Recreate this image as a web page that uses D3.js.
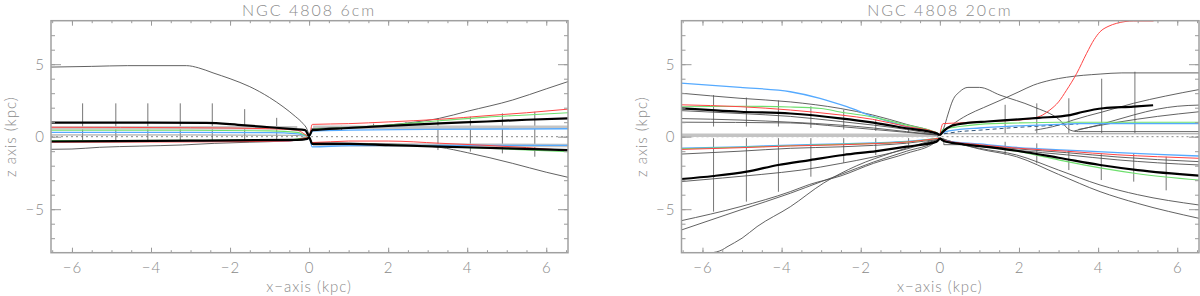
<!DOCTYPE html>
<html>
<head>
<meta charset="utf-8">
<script src="https://cdn.jsdelivr.net/npm/d3@7"></script>
<style>
  body { margin: 0; background: #fff; }
  text { font-family: Lato, "Open Sans", sans-serif; font-weight: 300; fill: #8a8a8a; }
</style>
</head>
<body>
<div id="chart"></div>
<script>
// axis ranges and ticks
const xDomain = [-6.53, 6.55];
const zDomain = [-8, 8];
const xMajor = [-6, -4, -2, 0, 2, 4, 6];
const xMinor = d3.range(-6.5, 6.51, 0.5);
const zMajor = [-5, 0, 5];
const zMinor = d3.range(-7, 7.1, 1);

// ---- NGC 4808 6cm : [x, z] in kpc ----
const hump6 = [[-6.55,4.8],[-5.5,4.85],[-4.6,4.9],[-3.1,4.9],[-2.8,4.75],[-2.43,4.4],[-2.0,4.0],[-1.5,3.45],[-1.0,2.7],[-0.66,2.07],[-0.35,1.4],[-0.16,0.92],[-0.05,0.5],[0,0.1]];
const grayUp6 = [[0.05,0.55],[1,0.65],[2,0.8],[2.5,0.95],[3.3,1.27],[4,1.75],[5.15,2.53],[6,3.3],[6.55,3.8]];
const grayDn6R = [[0.05,-0.4],[1,-0.45],[2,-0.5],[3.3,-0.73],[4,-1.1],[5.15,-1.84],[6,-2.45],[6.55,-2.8]];
const grayDn6L = [[-6.55,-0.87],[-6,-0.85],[-5.3,-0.73],[-4.3,-0.65],[-3.2,-0.57],[-2.4,-0.46],[-1.5,-0.38],[-0.6,-0.3],[-0.1,-0.2],[0,0]];
const grayMid6 = [[-6.55,0.12],[-3,0.12],[-0.5,0.1],[0,0.02]];
const blackUp6 = [[-6.55,0.97],[-4,0.97],[-2.6,0.95],[-1.8,0.82],[-1.0,0.65],[-0.4,0.52],[-0.1,0.45],[0,0.05],[0.08,0.45],[1,0.6],[2,0.75],[3.3,0.92],[4.5,1.05],[5.5,1.17],[6.55,1.27]];
const blackDn6 = [[-6.55,-0.33],[-3,-0.27],[-0.3,-0.22],[-0.05,-0.15],[0,-0.05],[0.08,-0.5],[1,-0.5],[2,-0.58],[3.3,-0.69],[5,-0.8],[6.55,-0.93]];
const redUp6 = [[-6.55,0.65],[-3,0.62],[-1,0.55],[-0.3,0.45],[0,0.05],[0.08,0.85],[1,0.9],[2,1.02],[3.3,1.2],[4.5,1.45],[5.5,1.65],[6.55,1.9]];
const greenUp6 = [[-6.55,0.45],[-3,0.44],[-1,0.4],[-0.3,0.3],[0,0.05],[0.08,0.5],[1,0.62],[2,0.8],[3.3,1.1],[4.5,1.35],[5.5,1.5],[6.55,1.65]];
const blueUp6 = [[-6.55,0.3],[-3,0.3],[-1,0.28],[-0.3,0.2],[0,0.05],[0.1,0.4],[1,0.45],[3,0.5],[6.55,0.55]];
const greenDn6 = [[-6.55,-0.27],[-3,-0.25],[-0.5,-0.22],[0,-0.05],[0.08,-0.45],[1,-0.5],[2,-0.55],[3.3,-0.68],[5,-0.85],[6.55,-1.03]];
const redDn6 = [[-6.55,-0.38],[-3,-0.36],[-0.5,-0.3],[0,-0.05],[0.08,-0.4],[1,-0.3],[2,-0.3],[3.3,-0.45],[4.5,-0.6],[5.5,-0.75],[6.55,-0.95]];
const blueDn6 = [[-6.55,-0.3],[-3,-0.3],[-0.5,-0.28],[0,-0.05],[0.08,-0.7],[1,-0.62],[3,-0.6],[6.55,-0.6]];
const bandUp6L = [[-6.55,0.6],[-0.3,0.62]];
const bandUp6R = [[0.1,0.65],[6.55,0.65]];
const bandDn6R = [[0.1,-0.55],[6.55,-0.6]];
const bars6 = [[-5.73,-0.35,2.3],[-4.89,-0.35,2.3],[-4.08,-0.35,2.3],[-3.26,-0.35,2.3],[-2.45,-0.35,2.3],[-1.63,-0.35,1.9],[-0.82,-0.3,1.3],
               [0.82,0.45,0.75],[1.63,0.5,0.9],[2.45,0.55,1.0],[3.26,-0.92,1.27],[4.08,-1.03,1.38],[4.89,-1.15,1.61],[5.71,-1.38,1.72]];

// ---- NGC 4808 20cm : [x, z] in kpc ----
const blueUp20 = [[-6.55,3.7],[-5.05,3.4],[-3.78,3.1],[-3.03,2.65],[-2.35,2.07],[-1.68,1.38],[-0.84,0.69],[-0.08,0.23],[0,0.1]];
const darkUp20 = [[-6.55,3.0],[-5.05,2.65],[-3.78,2.4],[-2.52,1.95],[-1.7,1.5],[-0.84,0.85],[-0.1,0.25],[0,0.1]];
const redUp20 = [[-6.55,2.2],[-5.05,2.07],[-3.78,1.84],[-2.52,1.5],[-1.7,1.2],[-0.84,0.7],[-0.1,0.3],[0,0.1]];
const greenUp20 = [[-6.55,2.07],[-5.05,2.1],[-3.78,2.05],[-3,1.95],[-2.52,1.7],[-1.68,1.35],[-0.84,0.8],[-0.1,0.3],[0,0.1]];
const blackUp20 = [[-6.55,1.95],[-5.05,1.72],[-3.78,1.6],[-2.52,1.27],[-1.68,0.97],[-0.84,0.58],[-0.08,0.23],[0,0.1]];
const grayUp20a = [[-6.55,1.8],[-5.05,1.6],[-3.78,1.4],[-2.52,1.05],[-1.68,0.8],[-0.84,0.5],[0,0.1]];
const grayUp20b = [[-6.55,1.25],[-5.05,1.15],[-3.78,1.0],[-2.52,0.8],[-1.68,0.6],[-0.84,0.35],[0,0.1]];
const grayUp20c = [[-6.55,1.0],[-3.78,0.95],[-2.52,0.7],[-1.68,0.5],[-0.84,0.3],[0,0.1]];
const band20 = [[-6.55,0.1],[-0.1,0.1]];
const blueDn20 = [[-6.55,-0.8],[-5.05,-0.7],[-3.78,-0.58],[-2.52,-0.5],[-1.68,-0.43],[-0.84,-0.33],[0,-0.1]];
const greenDn20 = [[-6.55,-0.83],[-5.05,-0.73],[-3.78,-0.62],[-2.52,-0.53],[-1.68,-0.46],[-0.84,-0.36],[0,-0.1]];
const redDn20 = [[-6.55,-0.88],[-5.05,-0.76],[-3.78,-0.64],[-2.52,-0.56],[-1.68,-0.48],[-0.84,-0.37],[0,-0.1]];
const grayDn20a = [[-6.55,-1.2],[-5.05,-1.0],[-3.78,-0.8],[-2.52,-0.7],[-1.68,-0.6],[-0.84,-0.45],[0,-0.15]];
const blackDn20 = [[-6.55,-2.92],[-5.72,-2.71],[-4.88,-2.41],[-4.09,-1.95],[-3.28,-1.61],[-2.44,-1.26],[-1.6,-0.99],[-0.84,-0.69],[-0.08,-0.34],[0,-0.1]];
const grayDn20b = [[-6.55,-3.1],[-5.5,-2.85],[-4.5,-2.6],[-3.5,-2.3],[-2.52,-1.85],[-1.68,-1.4],[-0.84,-0.85],[0,-0.15]];
const steep20a = [[-6.55,-5.8],[-5.05,-4.83],[-3.78,-3.79],[-3.3,-3.3],[-2.5,-2.7],[-1.68,-1.84],[-0.84,-1.15],[-0.1,-0.35],[0,-0.1]];
const steep20b = [[-6.55,-6.45],[-5.05,-5.06],[-3.78,-3.9],[-3.0,-3.1],[-2.5,-2.6],[-1.68,-1.75],[-0.84,-1.0],[-0.1,-0.3],[0,-0.1]];
const steep20c = [[-6.55,-8],[-5.8,-8],[-5.5,-7.8],[-5.38,-7.6],[-5,-7.0],[-4.62,-6.2],[-3.78,-4.83],[-2.94,-3.2],[-2.1,-2.0],[-1.2,-1.1],[-0.5,-0.5],[0,-0.1]];
const redR20 = [[0,0.1],[0.08,0.9],[0.5,0.95],[1.2,1.05],[2.0,1.15],[2.36,1.27],[2.6,1.5],[2.78,1.84],[3.0,2.4],[3.2,3.2],[3.46,4.37],[3.71,5.75],[3.9,6.7],[4.05,7.24],[4.25,7.6],[4.47,7.82],[4.89,7.98],[5.4,7.98]];
const blackR20 = [[0,0.1],[0.1,0.4],[0.3,0.75],[0.7,0.95],[1.2,1.05],[2.0,1.2],[2.5,1.3],[3.29,1.49],[3.6,1.7],[4.13,1.96],[4.89,2.07],[5.39,2.17]];
const humpR20 = [[0,0.1],[0.1,0.6],[0.2,1.5],[0.33,2.53],[0.5,3.1],[0.71,3.4],[1.0,3.4],[1.52,2.87],[2.36,2.07],[3.03,1.15],[3.29,0.46],[3.5,0.35],[6.55,0.35]];
const riseR20 = [[0.05,0.2],[0.3,0.8],[0.7,1.5],[1.1,2.0],[1.52,2.5],[2.0,3.1],[2.36,3.55],[2.8,3.9],[3.2,4.1],[4.05,4.32],[4.6,4.4],[6.55,4.4]];
const blueR20 = [[0,0.1],[0.1,0.3],[0.5,0.5],[1,0.6],[2,0.75],[3,0.85],[3.5,0.9],[6.55,0.9]];
const greenR20 = [[0,0.1],[0.08,0.5],[0.5,0.7],[1,0.85],[2,0.95],[3,1.0],[6.55,1.0]];
const dashR20 = [[0.1,0.2],[0.5,0.35],[1,0.45],[2,0.65],[3,0.8],[3.5,0.88]];
const grayR20a = [[2.4,0.45],[3.0,0.8],[3.37,1.15],[4.1,1.7],[4.89,2.3],[5.7,2.8],[6.55,3.25]];
const grayR20b = [[3.4,0.4],[4,0.8],[4.9,1.5],[5.5,1.9],[6.0,2.1],[6.55,2.18]];
const grayR20c = [[3.5,0.5],[4.5,1.0],[5.5,1.4],[6.55,1.72]];
const flatR20 = [[0.1,0.2],[6.55,0.2]];
const blueDnR20 = [[0,-0.1],[0.08,-0.25],[1,-0.5],[2,-0.75],[3.2,-0.92],[4.5,-1.1],[5.5,-1.22],[6.55,-1.33]];
const redDnR20 = [[0,-0.1],[0.08,-0.25],[1,-0.55],[2,-0.8],[3.2,-1.0],[4.5,-1.25],[5.5,-1.38],[6.55,-1.49]];
const grayDnR20a = [[0.1,-0.3],[1,-0.6],[2,-0.85],[3.2,-1.1],[4.5,-1.4],[5.5,-1.58],[6.55,-1.72]];
const grayDnR20b = [[0.1,-0.3],[1,-0.65],[2,-0.95],[3.2,-1.25],[4.5,-1.6],[5.5,-1.8],[6.55,-1.95]];
const blackDnR20 = [[0,-0.1],[0.1,-0.3],[0.5,-0.5],[1.0,-0.65],[1.94,-0.97],[3,-1.45],[4.05,-1.95],[5,-2.3],[6.55,-2.69]];
const greenDnR20 = [[0,-0.1],[0.1,-0.3],[0.5,-0.5],[1,-0.65],[1.94,-1.0],[3,-1.6],[4.05,-2.15],[5,-2.55],[6.55,-2.99]];
const steepR20a = [[0,-0.1],[0.5,-0.5],[1.0,-0.8],[1.94,-1.26],[3,-2.3],[4.05,-3.33],[5,-4.0],[6.55,-4.71]];
const steepR20b = [[0,-0.1],[0.5,-0.5],[1.0,-0.85],[1.94,-1.38],[3,-2.6],[4.05,-3.79],[5,-4.6],[6.55,-5.63]];
const boxR20 = [[0.1,-0.1],[0.1,-0.55],[0.6,-0.55]];
const bars20 = [[-5.72,0.7,2.87],[-4.89,0.7,2.7],[-4.08,0.7,2.5],[-3.26,0.6,2.1],[-2.43,0.5,1.85],[-1.62,0.4,1.2],[-0.79,0.3,0.6],
                [-5.72,-0.1,-5.17],[-4.89,-0.1,-4.48],[-4.08,-0.1,-3.8],[-3.26,-0.1,-2.76],[-2.43,-0.1,-1.8],[-1.62,-0.1,-1.26],[-0.79,-0.1,-0.6],
                [1.65,0.25,2.2],[2.45,0.25,2.3],[3.26,0.25,2.65],[4.09,0.25,4.0],[4.93,0.25,4.48],
                [1.65,-0.35,-1.26],[2.45,-0.46,-1.84],[3.26,-0.92,-2.3],[4.08,-1.15,-2.99],[4.9,-1.15,-3.1],[5.72,-1.38,-3.7]];

const styles = {
  gray:  { stroke: "#505050", width: 0.9 },
  light: { stroke: "#9a9a9a", width: 1 },
  band:  { stroke: "#c4c4c4", width: 3.5 },
  black: { stroke: "#000", width: 2.2 },
  red:   { stroke: "#ff4545", width: 1 },
  green: { stroke: "#6fe06f", width: 1.1 },
  blue:  { stroke: "#55aaff", width: 1.3 },
  dash:  { stroke: "#335577", width: 1, dash: "4,3" }
};

const panels = [
  { title: "NGC 4808 6cm", left: 51, right: 568, ylabX: 10, bars: bars6,
    lines: [[bandUp6L,"band"],[bandUp6R,"band"],[bandDn6R,"band"],[grayMid6,"light"],
            [hump6,"gray"],[grayUp6,"gray"],[grayDn6R,"gray"],[grayDn6L,"gray"],
            [blueUp6,"blue"],[blueDn6,"blue"],[greenUp6,"green"],[greenDn6,"green"],
            [redUp6,"red"],[redDn6,"red"],[blackUp6,"black"],[blackDn6,"black"]] },
  { title: "NGC 4808 20cm", left: 681.5, right: 1199, ylabX: 641, bars: bars20,
    lines: [[band20,"band"],[flatR20,"light"],[boxR20,"gray"],
            [grayUp20a,"gray"],[grayUp20b,"gray"],[grayUp20c,"gray"],[darkUp20,"gray"],
            [grayDn20a,"gray"],[grayDn20b,"gray"],[steep20a,"gray"],[steep20b,"gray"],[steep20c,"gray"],
            [humpR20,"gray"],[riseR20,"gray"],[grayR20a,"gray"],[grayR20b,"gray"],[grayR20c,"gray"],
            [grayDnR20a,"gray"],[grayDnR20b,"gray"],[steepR20a,"gray"],[steepR20b,"gray"],
            [dashR20,"dash"],
            [blueUp20,"blue"],[blueR20,"blue"],[blueDnR20,"blue"],[blueDn20,"blue"],
            [greenUp20,"green"],[greenR20,"green"],[greenDnR20,"green"],[greenDn20,"green"],
            [redUp20,"red"],[redR20,"red"],[redDnR20,"red"],[redDn20,"red"],
            [blackUp20,"black"],[blackDn20,"black"],[blackR20,"black"],[blackDnR20,"black"]] }
];

const W = 1200, H = 296, plotTop = 20.7, plotBottom = 252.7;
const svg = d3.select("#chart").append("svg").attr("width", W).attr("height", H);
const fmt = d => d < 0 ? "\u2212" + (-d) : String(d);

panels.forEach((p, i) => {
  const x = d3.scaleLinear().domain(xDomain).range([p.left, p.right]);
  const y = d3.scaleLinear().domain(zDomain).range([plotBottom, plotTop]);
  const g = svg.append("g");

  g.append("clipPath").attr("id", "clip" + i)
    .append("rect").attr("x", p.left).attr("y", plotTop)
    .attr("width", p.right - p.left).attr("height", plotBottom - plotTop);
  const plot = g.append("g").attr("clip-path", `url(#clip${i})`);

  // dotted zero line
  plot.append("line")
    .attr("x1", p.left).attr("x2", p.right).attr("y1", y(0)).attr("y2", y(0))
    .attr("stroke", "#888").attr("stroke-width", 1).attr("stroke-dasharray", "2,3");

  plot.selectAll(".bar").data(p.bars).enter().append("line")
    .attr("x1", d => x(d[0])).attr("x2", d => x(d[0]))
    .attr("y1", d => y(d[1])).attr("y2", d => y(d[2]))
    .attr("stroke", "#666").attr("stroke-width", 0.9);

  const line = d3.line().x(d => x(d[0])).y(d => y(d[1])).curve(d3.curveMonotoneX);
  p.lines.forEach(([pts, key]) => {
    const s = styles[key];
    plot.append("path").attr("d", line(pts)).attr("fill", "none")
      .attr("stroke", s.stroke).attr("stroke-width", s.width)
      .attr("stroke-dasharray", s.dash || null);
  });

  // axes (ticks point inward)
  const axes = [
    [d3.axisBottom(x).tickValues(xMajor).tickSize(-5).tickPadding(10).tickFormat(fmt), plotBottom, 0],
    [d3.axisBottom(x).tickValues(xMinor).tickSize(-2.5).tickFormat(""), plotBottom, 0],
    [d3.axisTop(x).tickValues(xMajor).tickSize(-5).tickFormat(""), plotTop, 0],
    [d3.axisTop(x).tickValues(xMinor).tickSize(-2.5).tickFormat(""), plotTop, 0],
    [d3.axisLeft(y).tickValues(zMajor).tickSize(-10).tickPadding(6).tickFormat(fmt), 0, p.left],
    [d3.axisLeft(y).tickValues(zMinor).tickSize(-4).tickFormat(""), 0, p.left],
    [d3.axisRight(y).tickValues(zMajor).tickSize(-10).tickFormat(""), 0, p.right],
    [d3.axisRight(y).tickValues(zMinor).tickSize(-4).tickFormat(""), 0, p.right]
  ];
  axes.forEach(([ax, ty, tx]) => {
    const a = g.append("g").attr("transform", `translate(${tx},${ty})`).call(ax);
    a.select(".domain").remove();
    a.selectAll("line").attr("stroke", "#9a9a9a").attr("stroke-width", 1);
    a.selectAll("text").attr("font-size", 15).attr("fill", "#8a8a8a")
      .style("font-family", "Lato, 'Open Sans', sans-serif").style("letter-spacing", "1px");
  });

  g.append("rect").attr("x", p.left).attr("y", plotTop)
    .attr("width", p.right - p.left).attr("height", plotBottom - plotTop)
    .attr("fill", "none").attr("stroke", "#a0a0a0").attr("stroke-width", 1.5);

  g.append("text").attr("x", x(0)).attr("y", 16).attr("text-anchor", "middle")
    .attr("font-size", 16).style("letter-spacing", "2px").text(p.title);
  g.append("text").attr("x", x(0)).attr("y", 292).attr("text-anchor", "middle")
    .attr("font-size", 15).style("letter-spacing", "1px").text("x\u2212axis (kpc)");
  g.append("text")
    .attr("transform", `translate(${p.ylabX},${y(0)}) rotate(-90)`)
    .attr("text-anchor", "middle").attr("dominant-baseline", "central")
    .attr("font-size", 15).style("letter-spacing", "1px").text("z axis (kpc)");
});
</script>
</body>
</html>
